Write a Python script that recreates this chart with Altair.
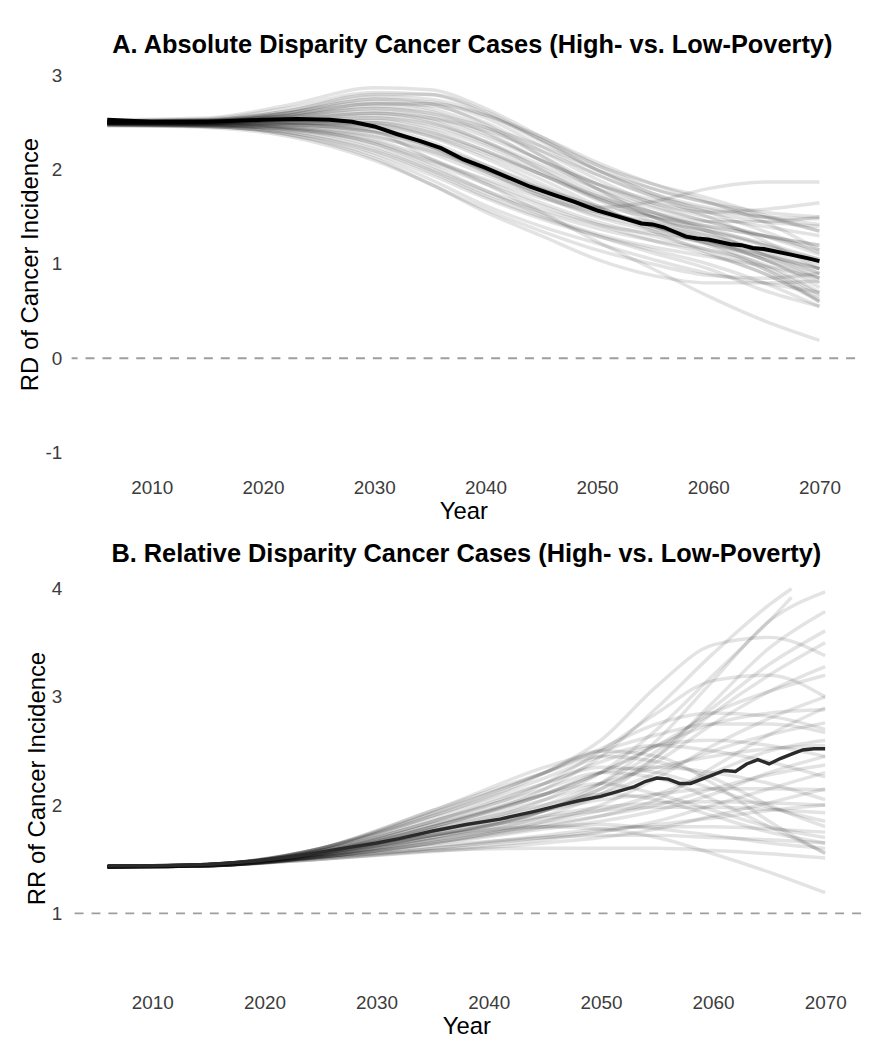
import altair as alt
import pandas as pd

# ---------------- Panel A: absolute disparity (RD) ----------------
YEARS_A = [2006, 2015, 2022, 2030, 2035, 2040, 2045, 2050, 2055, 2060, 2065, 2070]
RUNS_A = [
    [2.53, 2.55, 2.68, 2.87, 2.85, 2.65, 2.35, 2.05, 1.80, 1.65, 1.55, 1.50],
    [2.52, 2.54, 2.65, 2.82, 2.80, 2.60, 2.30, 2.00, 1.75, 1.60, 1.50, 1.42],
    [2.52, 2.53, 2.62, 2.78, 2.75, 2.58, 2.32, 2.00, 1.80, 1.65, 1.50, 1.35],
    [2.51, 2.53, 2.60, 2.75, 2.72, 2.55, 2.25, 1.95, 1.72, 1.58, 1.50, 1.48],
    [2.52, 2.52, 2.58, 2.70, 2.68, 2.50, 2.20, 1.90, 1.65, 1.50, 1.40, 1.30],
    [2.50, 2.52, 2.60, 2.72, 2.65, 2.45, 2.15, 1.85, 1.62, 1.45, 1.30, 1.15],
    [2.51, 2.52, 2.57, 2.65, 2.60, 2.45, 2.25, 2.00, 1.75, 1.55, 1.35, 1.12],
    [2.50, 2.51, 2.56, 2.62, 2.55, 2.35, 2.10, 1.85, 1.65, 1.55, 1.58, 1.65],
    [2.50, 2.51, 2.55, 2.60, 2.52, 2.30, 2.05, 1.80, 1.60, 1.45, 1.30, 1.10],
    [2.50, 2.50, 2.54, 2.58, 2.50, 2.30, 2.00, 1.70, 1.50, 1.35, 1.20, 1.05],
    [2.50, 2.50, 2.52, 2.55, 2.48, 2.28, 2.02, 1.75, 1.55, 1.38, 1.20, 1.00],
    [2.50, 2.50, 2.52, 2.52, 2.42, 2.20, 1.95, 1.70, 1.52, 1.40, 1.30, 1.20],
    [2.50, 2.50, 2.50, 2.50, 2.40, 2.20, 1.95, 1.68, 1.45, 1.25, 1.05, 0.85],
    [2.50, 2.49, 2.50, 2.48, 2.35, 2.12, 1.85, 1.60, 1.40, 1.25, 1.10, 0.95],
    [2.49, 2.49, 2.49, 2.45, 2.30, 2.05, 1.80, 1.58, 1.42, 1.30, 1.15, 0.95],
    [2.49, 2.49, 2.48, 2.42, 2.25, 2.00, 1.75, 1.55, 1.40, 1.25, 1.05, 0.80],
    [2.49, 2.48, 2.47, 2.40, 2.22, 1.98, 1.72, 1.50, 1.35, 1.22, 1.05, 0.75],
    [2.49, 2.48, 2.46, 2.36, 2.18, 1.95, 1.72, 1.52, 1.38, 1.20, 0.95, 0.60],
    [2.48, 2.48, 2.45, 2.32, 2.12, 1.88, 1.65, 1.45, 1.30, 1.15, 0.95, 0.65],
    [2.48, 2.47, 2.44, 2.28, 2.08, 1.85, 1.62, 1.42, 1.25, 1.10, 0.90, 0.60],
    [2.48, 2.47, 2.42, 2.22, 2.00, 1.75, 1.55, 1.38, 1.25, 1.15, 1.00, 0.70],
    [2.48, 2.46, 2.40, 2.18, 1.95, 1.70, 1.48, 1.30, 1.15, 1.00, 0.80, 0.55],
    [2.47, 2.46, 2.38, 2.15, 1.90, 1.62, 1.40, 1.22, 1.05, 0.90, 0.80, 0.70],
    [2.47, 2.46, 2.38, 2.12, 1.85, 1.58, 1.35, 1.15, 1.00, 0.88, 0.85, 0.90],
    [2.48, 2.46, 2.40, 2.20, 1.98, 1.72, 1.50, 1.30, 1.12, 0.95, 0.72, 0.55],
    [2.50, 2.49, 2.48, 2.40, 2.12, 1.85, 1.55, 1.24, 0.95, 0.66, 0.40, 0.19],
    [2.50, 2.50, 2.50, 2.45, 2.25, 1.98, 1.75, 1.60, 1.66, 1.80, 1.87, 1.87],
    [2.47, 2.45, 2.36, 2.10, 1.85, 1.55, 1.30, 1.05, 0.88, 0.80, 0.80, 0.82],
    [2.50, 2.50, 2.53, 2.60, 2.55, 2.42, 2.20, 1.95, 1.72, 1.50, 1.25, 0.95],
    [2.50, 2.51, 2.56, 2.65, 2.58, 2.38, 2.10, 1.80, 1.55, 1.35, 1.10, 0.85],
    [2.51, 2.52, 2.60, 2.75, 2.70, 2.48, 2.15, 1.80, 1.50, 1.28, 1.10, 0.95],
    [2.49, 2.48, 2.45, 2.35, 2.20, 2.00, 1.80, 1.62, 1.50, 1.40, 1.30, 1.20],
    [2.49, 2.48, 2.44, 2.30, 2.10, 1.90, 1.70, 1.55, 1.45, 1.35, 1.22, 1.05],
    [2.48, 2.47, 2.43, 2.25, 2.02, 1.78, 1.58, 1.42, 1.32, 1.22, 1.08, 0.90],
    [2.50, 2.50, 2.52, 2.50, 2.38, 2.18, 1.95, 1.72, 1.55, 1.45, 1.45, 1.50],
    [2.51, 2.52, 2.57, 2.68, 2.62, 2.40, 2.10, 1.85, 1.68, 1.55, 1.45, 1.40],
    [2.50, 2.51, 2.54, 2.55, 2.45, 2.25, 1.98, 1.72, 1.50, 1.32, 1.12, 0.90],
    [2.49, 2.49, 2.48, 2.40, 2.25, 2.05, 1.82, 1.60, 1.40, 1.22, 0.98, 0.68],
    [2.48, 2.47, 2.43, 2.28, 2.05, 1.78, 1.52, 1.32, 1.18, 1.08, 0.98, 0.85],
    [2.50, 2.50, 2.50, 2.47, 2.36, 2.15, 1.90, 1.62, 1.35, 1.12, 0.90, 0.62],
    [2.52, 2.53, 2.62, 2.80, 2.80, 2.62, 2.32, 2.05, 1.85, 1.70, 1.52, 1.35],
    [2.51, 2.52, 2.58, 2.70, 2.70, 2.58, 2.35, 2.08, 1.85, 1.66, 1.45, 1.15],
]
MEAN_A_YEARS = [2006, 2010, 2015, 2020, 2023, 2026, 2028, 2030, 2032, 2034, 2036,
                2038, 2040, 2042, 2044, 2046, 2048, 2050, 2052, 2054, 2055, 2056,
                2058, 2059, 2060, 2062, 2063, 2064, 2065, 2067, 2069, 2070]
MEAN_A_VALUES = [2.53, 2.51, 2.51, 2.53, 2.54, 2.53, 2.51, 2.46, 2.38, 2.31, 2.23,
                 2.11, 2.02, 1.92, 1.82, 1.74, 1.66, 1.57, 1.50, 1.43, 1.42, 1.39,
                 1.29, 1.27, 1.26, 1.21, 1.20, 1.17, 1.16, 1.11, 1.06, 1.03]

# ---------------- Panel B: relative disparity (RR) ----------------
YEARS_B = [2006, 2015, 2025, 2035, 2045, 2050, 2055, 2060, 2065, 2067, 2070]
N = None
RUNS_B = [
    [1.43, 1.45, 1.56, 1.80, 2.15, 2.45, 2.90, 3.40, 3.85, 4.00, N],
    [1.43, 1.45, 1.55, 1.75, 2.05, 2.30, 2.70, 3.20, 3.70, 3.92, N],
    [1.43, 1.44, 1.54, 1.72, 1.95, 2.20, 2.60, 3.15, 3.70, N, 3.97],
    [1.43, 1.44, 1.52, 1.68, 1.90, 2.10, 2.45, 2.95, 3.45, N, 3.79],
    [1.43, 1.45, 1.55, 1.75, 2.00, 2.20, 2.50, 2.90, 3.30, N, 3.61],
    [1.43, 1.45, 1.60, 1.90, 2.30, 2.60, 3.10, 3.48, 3.55, N, 3.38],
    [1.43, 1.44, 1.53, 1.70, 1.95, 2.15, 2.40, 2.75, 3.05, N, 3.28],
    [1.43, 1.45, 1.58, 1.85, 2.20, 2.50, 2.85, 3.15, 3.20, N, 3.00],
    [1.43, 1.44, 1.52, 1.65, 1.85, 2.00, 2.25, 2.55, 2.80, N, 3.00],
    [1.43, 1.45, 1.57, 1.80, 2.10, 2.30, 2.55, 2.75, 2.85, N, 2.88],
    [1.43, 1.44, 1.55, 1.72, 1.95, 2.10, 2.30, 2.50, 2.65, N, 2.76],
    [1.43, 1.45, 1.60, 1.95, 2.35, 2.50, 2.65, 2.75, 2.75, N, 2.67],
    [1.43, 1.44, 1.53, 1.68, 1.85, 1.95, 2.10, 2.30, 2.50, N, 2.60],
    [1.43, 1.45, 1.58, 1.85, 2.20, 2.40, 2.55, 2.60, 2.55, N, 2.45],
    [1.43, 1.44, 1.52, 1.65, 1.82, 1.90, 2.00, 2.15, 2.28, N, 2.37],
    [1.43, 1.45, 1.60, 1.90, 2.25, 2.45, 2.55, 2.50, 2.40, N, 2.26],
    [1.43, 1.44, 1.55, 1.75, 1.95, 2.05, 2.10, 2.15, 2.15, N, 2.14],
    [1.43, 1.45, 1.57, 1.82, 2.10, 2.30, 2.35, 2.30, 2.20, N, 2.05],
    [1.43, 1.44, 1.53, 1.70, 1.88, 1.95, 1.98, 1.98, 1.96, N, 1.93],
    [1.43, 1.45, 1.60, 1.95, 2.30, 2.45, 2.40, 2.25, 2.00, N, 1.80],
    [1.43, 1.44, 1.52, 1.62, 1.70, 1.72, 1.72, 1.70, 1.68, N, 1.65],
    [1.43, 1.45, 1.58, 1.85, 2.15, 2.30, 2.25, 2.05, 1.80, N, 1.56],
    [1.43, 1.44, 1.50, 1.58, 1.60, 1.60, 1.60, 1.58, 1.55, N, 1.51],
    [1.43, 1.45, 1.55, 1.72, 1.80, 1.78, 1.70, 1.55, 1.38, N, 1.19],
    [1.43, 1.45, 1.56, 1.78, 2.00, 2.10, 2.05, 1.90, 1.75, N, 1.65],
    [1.43, 1.44, 1.51, 1.60, 1.72, 1.78, 1.80, 1.80, 1.78, N, 1.75],
    [1.43, 1.44, 1.54, 1.72, 1.90, 1.98, 2.02, 2.03, 2.02, N, 2.00],
    [1.43, 1.44, 1.50, 1.58, 1.68, 1.75, 1.85, 2.00, 2.15, N, 2.30],
    [1.43, 1.45, 1.55, 1.78, 2.05, 2.20, 2.35, 2.45, 2.52, N, 2.55],
    [1.43, 1.44, 1.52, 1.65, 1.80, 1.90, 2.05, 2.35, 2.65, N, 2.90],
    [1.43, 1.45, 1.56, 1.80, 2.10, 2.30, 2.55, 2.85, 3.05, N, 3.20],
    [1.43, 1.45, 1.59, 1.88, 2.20, 2.35, 2.30, 2.15, 1.98, N, 1.85],
    [1.43, 1.44, 1.53, 1.68, 1.80, 1.82, 1.78, 1.72, 1.65, N, 1.60],
    [1.43, 1.44, 1.50, 1.57, 1.65, 1.70, 1.78, 1.90, 2.02, N, 2.15],
    [1.43, 1.45, 1.60, 1.92, 2.30, 2.52, 2.75, 2.85, 2.82, N, 2.70],
    [1.43, 1.44, 1.54, 1.72, 1.95, 2.15, 2.45, 2.85, 3.20, N, 3.50],
    [1.43, 1.45, 1.57, 1.82, 2.10, 2.20, 2.10, 1.95, 1.80, N, 1.70],
    [1.43, 1.44, 1.52, 1.64, 1.78, 1.85, 1.95, 2.10, 2.30, N, 2.45],
    [1.43, 1.45, 1.60, 1.93, 2.30, 2.50, 2.45, 2.20, 1.85, N, 1.55],
    [1.43, 1.44, 1.51, 1.60, 1.70, 1.76, 1.82, 1.88, 1.95, N, 2.00],
]
MEAN_B_YEARS = [2006, 2010, 2015, 2019, 2023, 2027, 2030, 2032, 2035, 2038, 2041,
                2044, 2046, 2048, 2050, 2052, 2053, 2054, 2055, 2056, 2057, 2058,
                2059, 2060, 2061, 2062, 2063, 2064, 2065, 2066, 2067, 2068, 2069, 2070]
MEAN_B_VALUES = [1.44, 1.44, 1.45, 1.48, 1.53, 1.60, 1.65, 1.69, 1.76, 1.82, 1.87,
                 1.94, 1.99, 2.04, 2.08, 2.14, 2.17, 2.22, 2.25, 2.24, 2.20, 2.20,
                 2.24, 2.28, 2.32, 2.31, 2.38, 2.42, 2.38, 2.43, 2.47, 2.51, 2.52, 2.52]

TITLE_A = "A. Absolute Disparity Cancer Cases (High- vs. Low-Poverty)"
TITLE_B = "B. Relative Disparity Cancer Cases (High- vs. Low-Poverty)"
YLAB_A = "RD of Cancer Incidence"
YLAB_B = "RR of Cancer Incidence"
XLAB = "Year"
X_TICKS = [2010, 2020, 2030, 2040, 2050, 2060, 2070]
Y_TICKS_A = [-1, 0, 1, 2, 3]
Y_TICKS_B = [1, 2, 3, 4]
REF_A = 0
REF_B = 1


def long_runs(years, runs):
    rows = []
    for i, vals in enumerate(runs):
        for yr, v in zip(years, vals):
            if v is not None:
                rows.append({"run": i, "year": yr, "value": v})
    return pd.DataFrame(rows)


FONT = "Liberation Sans"


def panel(years, runs, m_years, m_vals, ref, yticks, ydom, title, ylab,
          width, height, title_offset, title_dx, mean_color, mean_width):
    runs_df = long_runs(years, runs)
    mean_df = pd.DataFrame({"year": m_years, "value": m_vals})
    ref_df = pd.DataFrame({"value": [ref]})

    xs = alt.Scale(domain=[2002.8, 2073.2], nice=False, zero=False)
    ys = alt.Scale(domain=ydom, nice=False, zero=False)
    xax = alt.Axis(values=X_TICKS, labelExpr="'' + datum.value", title=XLAB,
                   grid=False, domain=False, ticks=False, labelPadding=7,
                   titlePadding=2)
    yax = alt.Axis(values=yticks, labelExpr="'' + datum.value", title=ylab,
                   grid=False, domain=False, ticks=False, labelPadding=10,
                   titlePadding=2)

    ref_rule = alt.Chart(ref_df).mark_rule(color="#9e9e9e", strokeWidth=1.8,
                                           strokeDash=[9, 8]).encode(
        y=alt.Y("value:Q", scale=ys, axis=yax))
    lines = alt.Chart(runs_df).mark_line(interpolate="monotone", color="black",
                                         opacity=0.11, strokeWidth=3.5).encode(
        x=alt.X("year:Q", scale=xs, axis=xax),
        y=alt.Y("value:Q", scale=ys, axis=yax),
        detail="run:N")
    mean = alt.Chart(mean_df).mark_line(color=mean_color, strokeWidth=mean_width).encode(
        x=alt.X("year:Q", scale=xs, axis=xax),
        y=alt.Y("value:Q", scale=ys, axis=yax))
    return alt.layer(ref_rule, lines, mean).properties(
        width=width, height=height,
        title=alt.TitleParams(title, fontSize=25.5, fontWeight="bold", font=FONT,
                              anchor="middle", color="black", offset=title_offset,
                              dx=title_dx))


chart_a = panel(YEARS_A, RUNS_A, MEAN_A_YEARS, MEAN_A_VALUES, REF_A, Y_TICKS_A,
                [-1.2, 3.2], TITLE_A, YLAB_A, 788, 417, -2, 9, "black", 4)
chart_b = panel(YEARS_B, RUNS_B, MEAN_B_YEARS, MEAN_B_VALUES, REF_B, Y_TICKS_B,
                [0.325, 4.175], TITLE_B, YLAB_B, 794, 419, 2, 0, "#2b2b2b", 3.5)

chart = alt.ConcatChart(concat=[chart_a, chart_b], columns=1, spacing=19,
                        align="none").properties(
    padding={"left": 11, "top": 22, "right": 5, "bottom": 2},
    background="white"
).configure_view(strokeWidth=0, stroke=None).configure_axis(
    labelFont=FONT, labelFontSize=19, labelColor="#3c3c3c",
    titleFont=FONT, titleFontSize=24, titleFontWeight="normal", titleColor="black")

chart.save("out.html", embed_options={"renderer": "svg", "actions": False})
